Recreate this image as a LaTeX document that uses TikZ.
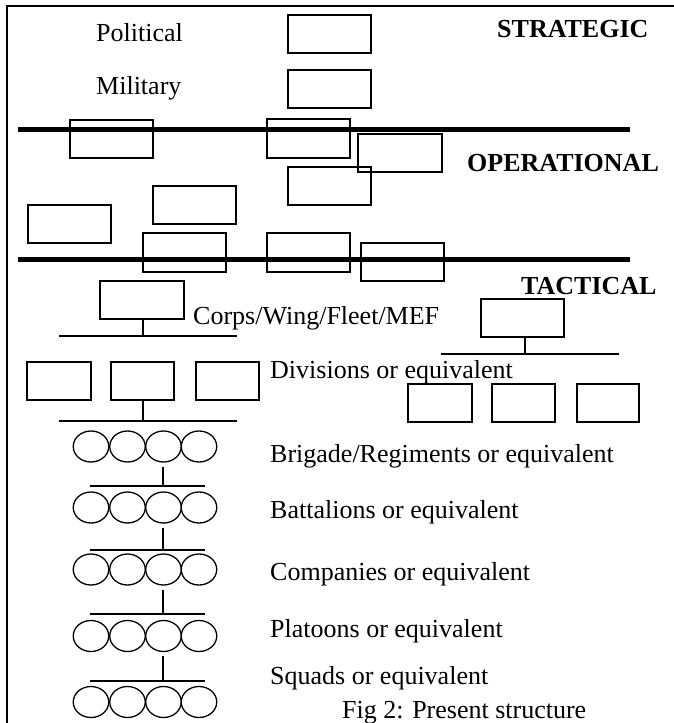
\documentclass[tikz,border=0pt]{standalone}
\usepackage{fontspec}
\setmainfont{Liberation Serif}
\usetikzlibrary{shapes.geometric}
\begin{document}
\begin{tikzpicture}[x=1pt,y=-1pt,
  box/.style={draw, line width=1.3pt, inner sep=0pt, minimum width=83pt, minimum height=38pt},
  oval/.style={draw, ellipse, line width=1.3pt, inner sep=0pt, minimum width=35.5pt, minimum height=31pt},
  lbl/.style={anchor=base west, inner sep=0pt, font=\fontsize{26}{31}\selectfont},
  hdr/.style={anchor=base west, inner sep=0pt, font=\fontsize{26}{31}\selectfont\bfseries},
  thick line/.style={line width=5pt},
  conn/.style={line width=1.6pt}]
\useasboundingbox (0,0) rectangle (674,723);
% frame (top and left edges)
\coordinate (fa) at (7,723);
\coordinate (fb) at (7,6);
\coordinate (fc) at (674,6);
\draw[line width=1.5pt] (fa) -- (fb) -- (fc);

% level separators
\coordinate (l1a) at (18,129);
\coordinate (l1b) at (630,129);
\coordinate (l2a) at (18,259);
\coordinate (l2b) at (630,259);
\draw[thick line] (l1a) -- (l1b);
\draw[thick line] (l2a) -- (l2b);

% strategic
\node[lbl] (political) at (96,41) {Political};
\node[lbl] (military) at (96,94) {Military};
\node[hdr] (strategic) at (497,37) {STRATEGIC};
\node[box] (s1) at (329.5,34) {};
\node[box] (s2) at (329.5,89) {};

% operational
\node[hdr] (operational) at (467,171) {OPERATIONAL};
\node[box] (o1) at (111.5,139) {};
\node[box, minimum height=39pt] (o2) at (308.5,138.5) {};
\node[box, minimum width=84pt] (o3) at (400,153) {};
\node[box] (o4) at (329.5,186) {};
\node[box] (o5) at (194.5,205) {};
\node[box] (o6) at (69.5,224) {};
\node[box, minimum height=39pt] (o7) at (184.5,252.5) {};
\node[box, minimum height=39pt] (o8) at (308.5,252.5) {};
\node[box] (o9) at (402.5,262) {};

% tactical
\node[hdr] (tactical) at (521,294) {TACTICAL};
\node[box, minimum width=84pt] (corps) at (142,300) {};
\node[lbl] (corpslbl) at (193,324) {Corps/Wing/Fleet/MEF};
\coordinate (h1a) at (59,336);
\coordinate (h1b) at (237,336);
\coordinate (v1) at (143,336);
\draw[conn] (h1a) -- (h1b);
\draw[conn] (corps.south -| v1) -- (v1);

\node[box] (rt) at (522.5,318) {};
\coordinate (h2a) at (441,354);
\coordinate (h2b) at (619,354);
\coordinate (v2) at (525,354);
\draw[conn] (h2a) -- (h2b);
\draw[conn] (rt.south -| v2) -- (v2);

\node[box, minimum width=64pt] (d1) at (59,381) {};
\node[box, minimum width=63pt] (d2) at (142.5,381) {};
\node[box, minimum width=63pt] (d3) at (227.5,381) {};
\node[lbl] (divlbl) at (270,378) {Divisions or equivalent};

\node[box, minimum width=64pt] (r1) at (440,403) {};
\node[box, minimum width=63pt] (r2) at (523.5,403) {};
\node[box, minimum width=62pt] (r3) at (608,403) {};

\coordinate (h3a) at (59,421);
\coordinate (h3b) at (237,421);
\coordinate (v3) at (143,421);
\draw[conn] (h3a) -- (h3b);
\draw[conn] (d2.south -| v3) -- (v3);

% circle rows
\foreach \r/\y in {1/446.5, 2/507.5, 3/569.5, 4/636, 5/702} {
  \node[oval] (c\r1) at (91,\y) {};
  \node[oval] (c\r2) at (127.5,\y) {};
  \node[oval] (c\r3) at (163.5,\y) {};
  \node[oval] (c\r4) at (199,\y) {};
}
\node[lbl] (brig) at (270,462) {Brigade/Regiments or equivalent};
\node[lbl] (batt) at (270,518) {Battalions or equivalent};
\node[lbl] (comp) at (270,580) {Companies or equivalent};
\node[lbl] (plat) at (270,637) {Platoons or equivalent};
\node[lbl] (squad) at (270,684) {Squads or equivalent};
\node[lbl] (caption) at (342,718) {Fig 2: Present structure};

% connectors between circle rows
\foreach \r/\ly in {1/486, 2/550, 3/614, 4/681} {
  \coordinate (t\r) at (163,\ly);
  \coordinate (ha\r) at (90,\ly);
  \coordinate (hb\r) at (205,\ly);
  \draw[conn] (ha\r) -- (hb\r);
  \draw[conn] ([yshift=-4pt]c\r3.south -| t\r) -- (t\r);
}
\end{tikzpicture}
\end{document}
